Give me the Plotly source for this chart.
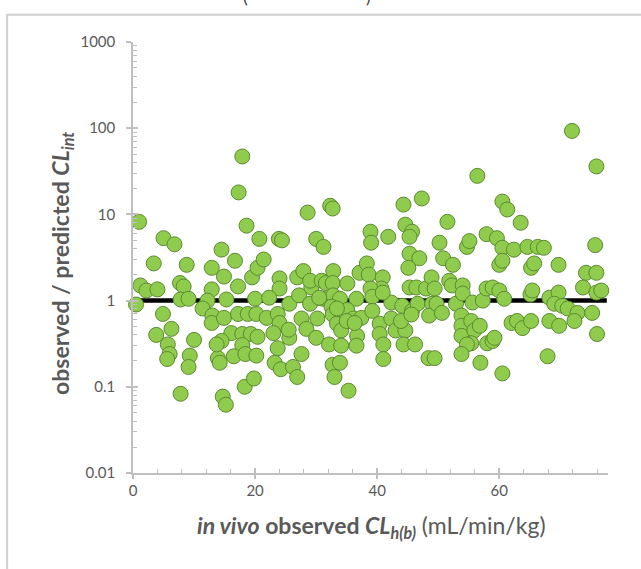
import plotly.graph_objects as go

# ---- data ----
x_obs = [
    1.0, 0.5, 1.2, 2.2, 4.0, 5.0, 6.8, 3.4, 8.8, 7.7, 8.3, 7.8, 9.1, 4.9, 6.3, 3.8, 5.7, 6.0, 5.6, 10.0, 9.3, 9.1, 7.8,
    14.7, 15.2, 17.9, 17.3, 18.6, 20.7, 23.9, 14.5, 16.7, 12.9, 14.9, 12.9, 17.2, 19.5, 20.4, 21.4, 24.0, 24.0,
    12.2, 11.4, 15.3, 20.0, 22.3, 13.0, 12.9, 14.9, 17.2, 18.8, 20.2, 21.9, 23.7, 24.0, 16.1, 14.5, 17.9, 19.3,
    20.4, 23.0, 17.9, 16.5, 18.4, 20.2, 13.9, 14.2, 23.7, 23.2, 24.2, 18.3, 19.8, 13.7, 25.6, 25.5, 26.2, 26.9,
    26.9, 25.6,
    28.6, 32.3, 32.7, 24.4, 30.0, 31.2, 44.3, 47.3, 38.9, 39.0, 41.8, 44.6, 45.7, 45.3, 50.2, 45.3, 46.9, 45.1,
    27.9, 29.2, 29.0, 30.9, 31.6, 32.8, 32.7, 35.1, 37.1, 38.3, 38.6, 40.9, 40.7, 38.9, 45.3, 46.4, 48.0, 48.9,
    27.2, 29.0, 31.1, 32.8, 33.9, 32.5, 36.6, 35.1, 36.1, 37.4, 39.2, 39.2, 42.3, 44.1, 45.7, 46.6, 49.0,
    27.6, 28.4, 30.2, 30.0, 32.7, 33.4, 34.1, 35.0, 32.1, 34.1, 36.7, 36.6, 40.4, 40.4, 41.0, 42.3, 43.0, 44.6,
    44.3, 46.2, 43.9, 48.5, 27.6, 32.7, 33.9, 33.0, 41.0, 48.4, 35.3, 33.4, 36.3, 45.6, 30.5, 40.9,
    71.9, 75.9, 56.4, 60.5, 61.3, 51.5, 63.5, 50.8, 52.4, 54.7, 55.1, 57.9, 59.6, 60.5, 62.4, 64.6, 66.3, 67.3,
    60.0, 60.5, 65.2, 65.7, 69.7, 75.7, 74.2, 75.9, 73.7, 75.9, 76.7, 51.8, 52.2, 49.4, 49.7, 50.6, 52.9,
    54.0, 54.0, 55.6, 57.3, 57.9, 58.9, 60.0, 60.8, 65.1, 65.4, 68.2, 69.7, 69.0, 70.3, 71.2, 72.8, 75.2,
    53.8, 53.8, 53.8, 55.4, 55.9, 56.8, 55.4, 54.7, 58.0, 58.9, 59.2, 62.0, 62.9, 63.8, 65.2, 68.2, 69.8, 72.3,
    76.0, 53.8, 56.9, 60.5, 67.9, 49.4,
]
y_ratio = [
    8.2, 0.90, 1.5, 1.31, 1.35, 5.3, 4.5, 2.7, 2.6, 1.6, 1.46, 1.03, 1.05, 0.70, 0.47, 0.40, 0.31, 0.24, 0.21, 0.35, 0.23, 0.17, 0.083,
    0.077, 0.062, 47, 18, 7.4, 5.2, 5.2, 3.9, 2.9, 2.4, 1.9, 1.35, 1.46, 1.86, 2.4, 3.0, 1.81, 1.38,
    1.0, 0.81, 1.03, 1.05, 1.08, 0.67, 0.55, 0.63, 0.70, 0.70, 0.70, 0.63, 0.70, 0.55, 0.42, 0.34, 0.41, 0.41,
    0.38, 0.42, 0.305, 0.226, 0.24, 0.23, 0.215, 0.19, 0.28, 0.19, 0.16, 0.10, 0.125, 0.31, 0.37, 0.46, 0.17, 0.13,
    1.86, 0.92,
    10.5, 12.6, 11.7, 5.0, 5.2, 4.2, 13, 15.3, 6.3, 4.7, 5.5, 7.6, 6.3, 5.5, 4.7, 3.5, 3.1, 2.4,
    2.2, 1.42, 1.7, 1.7, 1.6, 2.2, 1.6, 1.58, 2.1, 2.7, 2.0, 1.86, 1.38, 1.38, 1.42, 1.42, 1.38, 1.86,
    1.15, 0.92, 1.05, 1.15, 1.05, 0.85, 1.05, 0.78, 0.62, 0.63, 1.11, 0.76, 0.95, 0.87, 0.76, 0.92, 0.92,
    0.62, 0.47, 0.62, 0.37, 0.69, 0.54, 0.45, 0.58, 0.31, 0.30, 0.39, 0.30, 0.54, 0.41, 0.31, 0.62, 0.45, 0.45,
    0.31, 0.31, 0.58, 0.67, 0.24, 0.18, 0.19, 0.13, 0.21, 0.215, 0.09, 0.81, 0.55, 0.69, 1.08, 1.24,
    93, 36, 28, 14.1, 11.4, 8.2, 8.0, 3.1, 2.6, 4.2, 4.9, 5.9, 5.3, 4.1, 3.9, 4.2, 4.2, 4.1,
    2.6, 2.9, 2.4, 2.7, 2.6, 4.4, 2.1, 2.1, 1.42, 1.24, 1.31, 1.7, 1.5, 1.38, 0.92, 0.72, 0.92,
    1.5, 1.21, 0.95, 1.0, 1.38, 1.42, 1.31, 1.05, 1.18, 1.31, 1.08, 1.24, 0.92, 0.87, 0.81, 0.72, 0.72,
    0.67, 0.51, 0.39, 0.58, 0.45, 0.51, 0.32, 0.31, 0.32, 0.34, 0.37, 0.55, 0.58, 0.48, 0.58, 0.58, 0.51, 0.58,
    0.41, 0.24, 0.19, 0.143, 0.226, 0.215,
]
unity_x = [0, 77.6]
unity_y = [1, 1]

y_tickvals = [0.01, 0.1, 1, 10, 100, 1000]
y_ticktext = ["0.01", "0.1", "1", "10", "100", "1000"]
x_tickvals = [0, 20, 40, 60]
x_ticktext = ["0", "20", "40", "60"]

# ---- styling ----
AX = "#BFBFBF"
LBL = "#595959"
FONT = "Lato"
XR = [0, 77.8]
YR = [-2, 3]
x_minor = [v for v in range(4, 78, 4) if v % 20 != 0]
y_minor = [m * 10 ** e for e in range(-2, 3) for m in range(2, 10)]

fig = go.Figure()
fig.add_trace(go.Scatter(x=unity_x, y=unity_y, mode="lines",
                         line=dict(color="black", width=4.5),
                         hoverinfo="skip", showlegend=False))
fig.add_trace(go.Scatter(x=x_obs, y=y_ratio, mode="markers",
                         marker=dict(size=15, color="#8FCC4E",
                                     line=dict(color="#5A8A2E", width=1)),
                         cliponaxis=False, showlegend=False))
# dummy traces to draw the other half of crossing major ticks
fig.add_trace(go.Scatter(x=[None], y=[None], xaxis="x2", yaxis="y", showlegend=False))
fig.add_trace(go.Scatter(x=[None], y=[None], xaxis="x", yaxis="y2", showlegend=False))

fig.update_layout(
    width=641, height=569,
    margin=dict(l=133, r=32.5, t=42, b=96),
    paper_bgcolor="white", plot_bgcolor="white",
    font=dict(family=FONT, color=LBL),
    showlegend=False,
    xaxis=dict(range=XR, showgrid=False, zeroline=False,
               showline=True, linecolor=AX, linewidth=1.5,
               ticks="inside", ticklen=5, tickcolor=AX, tickwidth=1.5,
               tickmode="array", tickvals=x_tickvals, ticktext=x_ticktext,
               tickfont=dict(size=15, color=LBL, family=FONT),
               ticklabelstandoff=3,
               minor=dict(ticks="inside", ticklen=4, tickcolor=AX, tickwidth=1.2,
                          tickmode="array", tickvals=x_minor, showgrid=False)),
    xaxis2=dict(range=XR, overlaying="x", anchor="y", side="bottom",
                showgrid=False, zeroline=False,
                showline=False, ticks="outside", ticklen=5, tickcolor=AX, tickwidth=1.5,
                tickmode="array", tickvals=x_tickvals, showticklabels=False),
    yaxis=dict(type="log", range=YR, showgrid=False, zeroline=False,
               showline=True, linecolor=AX, linewidth=1.5,
               ticks="outside", ticklen=5, tickcolor=AX, tickwidth=1.5,
               tickmode="array", tickvals=y_tickvals, ticktext=y_ticktext,
               tickfont=dict(size=15, color=LBL, family=FONT),
               ticklabelstandoff=8,
               minor=dict(ticks="inside", ticklen=4, tickcolor=AX, tickwidth=1.2,
                          tickmode="array", tickvals=y_minor, showgrid=False)),
    yaxis2=dict(type="log", range=YR, overlaying="y", anchor="x", side="left",
                showgrid=False, zeroline=False, showline=False,
                ticks="inside", ticklen=5, tickcolor=AX, tickwidth=1.5,
                tickmode="array", tickvals=y_tickvals, showticklabels=False),
)

fig.add_annotation(xref="paper", yref="paper", x=0.503, y=-0.123,
                   xanchor="center", yanchor="middle", showarrow=False,
                   text="<b><i>in vivo</i> observed <i>CL</i><sub><i>h(b)</i></sub></b> (mL/min/kg)",
                   font=dict(size=23, color=LBL, family=FONT))
fig.add_annotation(xref="paper", yref="paper", x=-0.152, y=0.487,
                   xanchor="center", yanchor="middle", showarrow=False, textangle=-90,
                   text="<b>observed / predicted <i>CL</i><sub><i>int</i></sub></b>",
                   font=dict(size=23, color=LBL, family=FONT))
# cut-off caption parentheses at the very top
fig.add_annotation(xref="paper", yref="paper", x=0.236, y=1.107, xanchor="center",
                   yanchor="middle", showarrow=False, text="(",
                   font=dict(size=18, color="#404040", family=FONT))
fig.add_annotation(xref="paper", yref="paper", x=0.496, y=1.107, xanchor="center",
                   yanchor="middle", showarrow=False, text=")",
                   font=dict(size=18, color="#404040", family=FONT))

# outer chart frame
fig.add_shape(type="rect", xref="paper", yref="paper",
              x0=-0.265, y0=-2, x1=2, y1=1.063,
              line=dict(color="#D0D0D0", width=2), fillcolor="rgba(0,0,0,0)", layer="below")

fig.write_html("out.html")
